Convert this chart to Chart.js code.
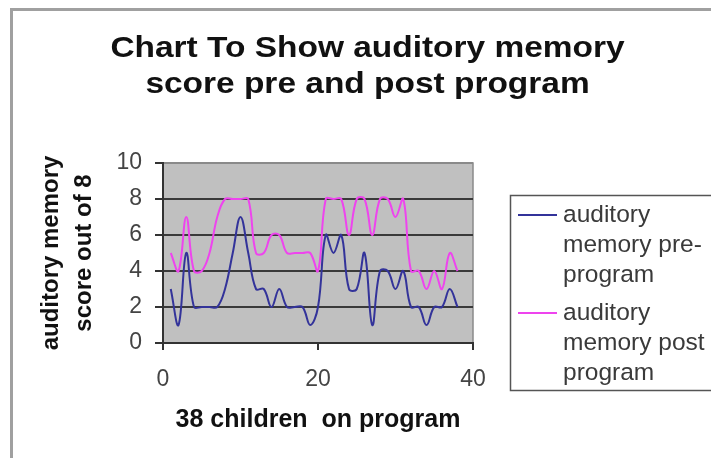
<!DOCTYPE html>
<html>
<head>
<meta charset="utf-8">
<script src="https://cdn.jsdelivr.net/npm/chart.js@4.4.1/dist/chart.umd.min.js"></script>
<style>
  html, body { margin: 0; padding: 0; background: #fff; }
  #wrap { width: 711px; height: 458px; }
</style>
</head>
<body>
<div id="wrap"><canvas id="chart" width="711" height="458"></canvas></div>
<script>
// ---- data ----
const titleLines = ['Chart To Show auditory memory', 'score pre and post program'];
const children = [1,2,3,4,5,6,7,8,9,10,11,12,13,14,15,16,17,18,19,20,21,22,23,24,25,26,27,28,29,30,31,32,33,34,35,36,37,38];
const preScores  = [3,1,5,2,2,2,2,3,5,7,5,3,3,2,3,2,2,2,1,2,6,5,6,3,3,5,1,4,4,3,4,2,2,1,2,2,3,2];
const postScores = [5,4,7,4,4,5,7,8,8,8,8,5,5,6,6,5,5,5,5,4,8,8,8,6,8,8,6,8,8,7,8,4,4,3,4,3,5,4];
const seriesNames = ['auditory memory pre-program', 'auditory memory post program'];
const legendLines = [['auditory', 'memory pre-', 'program'], ['auditory', 'memory post', 'program']];
const xTicks = [0, 20, 40];
const yTicks = [0, 2, 4, 6, 8, 10];
const xTitle = '38 children  on program';
const yTitle = ['auditory memory', 'score out of 8'];

const FONT = "'Liberation Sans', Arial, sans-serif";
const seriesColors = ['#33339a', '#ee44ee'];

function toPoints(ys) {
    return children.map((x, i) => ({ x: x, y: ys[i] }));
}

// background, plot area, title and the wrapped legend
const framePlugin = {
    id: 'frame',
    beforeDraw(chart) {
        const { ctx, chartArea: a } = chart;
        ctx.save();
        ctx.fillStyle = '#fff';
        ctx.fillRect(0, 0, chart.width, chart.height);
        ctx.strokeStyle = '#a0a0a0';
        ctx.lineWidth = 3;
        ctx.strokeRect(11.5, 9.5, chart.width + 20, chart.height + 20);
        ctx.fillStyle = '#c0c0c0';
        ctx.fillRect(a.left, a.top, a.right - a.left, a.bottom - a.top);
        ctx.strokeStyle = '#8a8a8a';
        ctx.lineWidth = 1.5;
        ctx.strokeRect(a.left, a.top, a.right - a.left, a.bottom - a.top);
        ctx.restore();
    },
    afterDraw(chart) {
        const { ctx } = chart;
        ctx.save();
        // title (the reference is slightly stretched sideways)
        ctx.fillStyle = '#111';
        ctx.font = 'bold 30px ' + FONT;
        ctx.textAlign = 'center';
        ctx.textBaseline = 'alphabetic';
        titleLines.forEach((t, i) => {
            ctx.save();
            ctx.translate(367.5, 57 + i * 36);
            ctx.scale(1.115, 1);
            ctx.fillText(t, 0, 0);
            ctx.restore();
        });

        // legend
        ctx.strokeStyle = '#555';
        ctx.lineWidth = 1.5;
        ctx.strokeRect(510.5, 195.5, 240, 195);
        ctx.font = '24.5px ' + FONT;
        ctx.textAlign = 'left';
        ctx.textBaseline = 'middle';
        chart.data.datasets.forEach((ds, i) => {
            const y0 = 215 + i * 98;
            ctx.strokeStyle = ds.borderColor;
            ctx.lineWidth = 2;
            ctx.beginPath();
            ctx.moveTo(518, y0);
            ctx.lineTo(557, y0);
            ctx.stroke();
            ctx.fillStyle = '#3a3a3a';
            legendLines[i].forEach((t, k) => ctx.fillText(t, 563, y0 + k * 30));
        });
        ctx.restore();
    }
};

new Chart(document.getElementById('chart'), {
    type: 'line',
    data: {
        datasets: [
            { label: seriesNames[0], data: toPoints(preScores), borderColor: seriesColors[0] },
            { label: seriesNames[1], data: toPoints(postScores), borderColor: seriesColors[1] }
        ]
    },
    options: {
        responsive: false,
        devicePixelRatio: 1,
        animation: false,
        layout: { padding: { left: 12, right: 238, top: 163, bottom: 0 } },
        elements: {
            line: { borderWidth: 2, tension: 0.4, fill: false },
            point: { radius: 0 }
        },
        plugins: {
            legend: { display: false },
            title: { display: false },
            tooltip: { enabled: false }
        },
        scales: {
            x: {
                type: 'linear',
                min: 0,
                max: 40,
                afterBuildTicks: s => { s.ticks = xTicks.map(v => ({ value: v })); },
                afterFit: s => { s.height = 115; },
                ticks: { font: { family: FONT, size: 23 }, color: '#444', padding: 16, maxRotation: 0 },
                grid: { drawOnChartArea: false, tickLength: 7, tickColor: '#333', lineWidth: 2 },
                border: { display: true, color: '#333', width: 2 },
                title: {
                    display: true,
                    text: xTitle,
                    color: '#111',
                    font: { family: FONT, size: 25, weight: 'bold', lineHeight: 1.2 },
                    padding: { top: 0, bottom: 23 }
                }
            },
            y: {
                min: 0,
                max: 10,
                afterBuildTicks: s => { s.ticks = yTicks.map(v => ({ value: v })); },
                afterFit: s => { s.width = 151; },
                ticks: { font: { family: FONT, size: 23 }, color: '#444', padding: 13 },
                grid: {
                    color: ctx => (ctx.tick && ctx.tick.value === 10) ? '#8a8a8a' : '#3a3a3a',
                    lineWidth: 2,
                    tickLength: 8,
                    tickColor: '#333'
                },
                border: { display: true, color: '#333', width: 2 },
                title: {
                    display: true,
                    text: yTitle,
                    color: '#111',
                    font: { family: FONT, size: 24, weight: 'bold', lineHeight: 1.375 },
                    padding: { top: 23, bottom: 0 }
                }
            }
        }
    },
    plugins: [framePlugin]
});
</script>
</body>
</html>
